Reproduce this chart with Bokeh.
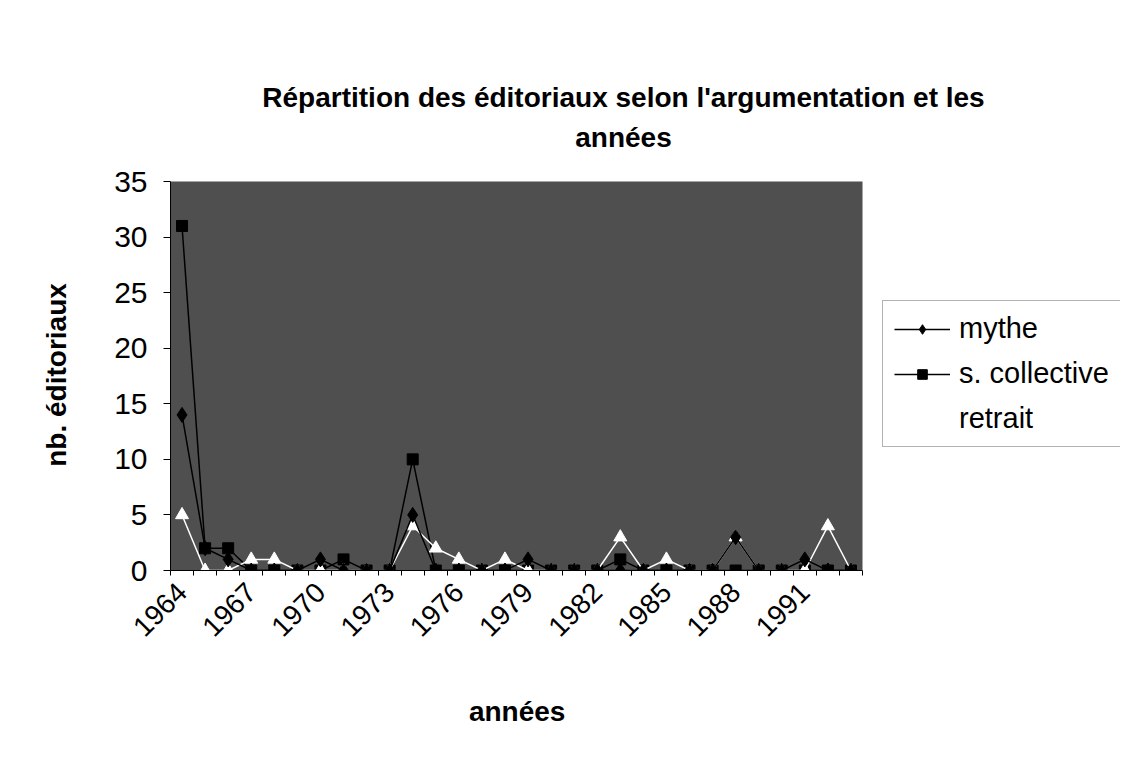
import math
from bokeh.plotting import figure
from bokeh.models import FixedTicker, Legend, LegendItem, Label, Range1d
from bokeh.embed import file_html
from bokeh.resources import INLINE

# ---- data ----
years = list(range(1964, 1994))
mythe        = [14, 2, 1, 0, 0, 0, 1, 0, 0, 0, 5, 0, 0, 0, 0, 1, 0, 0, 0, 0, 0, 0, 0, 0, 3, 0, 0, 1, 0, 0]
s_collective = [31, 2, 2, 0, 0, 0, 0, 1, 0, 0, 10, 0, 0, 0, 0, 0, 0, 0, 0, 1, 0, 0, 0, 0, 0, 0, 0, 0, 0, 0]
retrait      = [5, 0, 0, 1, 1, 0, 0, 0, 0, 0, 4, 2, 1, 0, 1, 0, 0, 0, 0, 3, 0, 1, 0, 0, 3, 0, 0, 0, 4, 0]
y_ticks = [0, 5, 10, 15, 20, 25, 30, 35]
title_lines = ["Répartition des éditoriaux selon l'argumentation et les", "années"]
x_title = "années"
y_title = "nb. éditoriaux"

x = list(range(len(years)))
FONT = "Liberation Sans"

# layout (pixels): plot area 692 x 389, its left edge 170 px and bottom 570 px from the top-left
W, H = 1120, 750
LEFT, BOTTOM = 170, 180
AREA_W, AREA_H = 692, 389
ncat = len(years)
ymax = max(y_ticks)
frame_w = W - LEFT
frame_h = H - BOTTOM
x_end = -0.5 + ncat * frame_w / AREA_W
y_end = ymax * frame_h / AREA_H

# axis titles are centred on the (larger) frame: pad with no-break spaces so the
# visible words sit centred on the plot area instead
NBSP = "\u00a0"
x_pad = NBSP * 33
y_pad = NBSP * 23

p = figure(width=W, height=H, output_backend="svg", toolbar_location=None, title=None,
           x_range=Range1d(-0.5, x_end), y_range=Range1d(0, y_end),
           min_border_left=LEFT, min_border_right=0, min_border_top=0, min_border_bottom=BOTTOM)
p.background_fill_color = "white"
p.border_fill_color = "white"
p.outline_line_color = None
p.grid.visible = False

# dark plot area
p.quad(left=-0.5, right=ncat - 0.5, bottom=0, top=ymax, fill_color="#4f4f4f", line_color=None)

# x axis
label_idx = list(range(0, ncat, 3))
p.xaxis.bounds = (-0.5, ncat - 0.5)
p.xaxis.ticker = FixedTicker(ticks=label_idx, minor_ticks=[i - 0.5 for i in range(ncat + 1)])
p.xaxis.major_label_overrides = {i: str(years[i]) for i in label_idx}
p.xaxis.major_label_orientation = math.pi / 4
p.xaxis.major_tick_out = 0
p.xaxis.major_tick_in = 0
p.xaxis.minor_tick_out = 5
p.xaxis.minor_tick_in = 0
p.xaxis.major_label_text_font = FONT
p.xaxis.major_label_text_font_size = "28px"
p.xaxis.major_label_text_color = "black"
p.xaxis.major_label_standoff = 12
p.xaxis.axis_label = x_title + x_pad
p.xaxis.axis_label_text_font = FONT
p.xaxis.axis_label_text_font_style = "bold"
p.xaxis.axis_label_text_font_size = "28px"
p.xaxis.axis_label_text_color = "black"
p.xaxis.axis_label_standoff = 48
p.xaxis.axis_line_color = "black"

# y axis
p.yaxis.bounds = (0, ymax)
p.yaxis.ticker = FixedTicker(ticks=y_ticks)
p.yaxis.major_tick_out = 7
p.yaxis.major_tick_in = 0
p.yaxis.minor_tick_out = 0
p.yaxis.minor_tick_in = 0
p.yaxis.major_label_text_font = FONT
p.yaxis.major_label_text_font_size = "30px"
p.yaxis.major_label_text_color = "black"
p.yaxis.major_label_standoff = 16
p.yaxis.axis_label = y_title + y_pad
p.yaxis.axis_label_text_font = FONT
p.yaxis.axis_label_text_font_style = "bold"
p.yaxis.axis_label_text_font_size = "28px"
p.yaxis.axis_label_text_color = "black"
p.yaxis.axis_label_standoff = 39
p.yaxis.axis_line_color = "black"

# series (drawing order chosen to match overlaps in the reference)
sc_line = p.line(x, s_collective, line_color="black", line_width=1.5)
sc_pts = p.scatter(x, s_collective, marker="square", size=11, fill_color="black", line_color="black")
re_line = p.line(x, retrait, line_color="white", line_width=1.5)
re_pts = p.scatter(x, retrait, marker="triangle", size=13, fill_color="white", line_color="white")
my_line = p.line(x, mythe, line_color="black", line_width=1.5)
my_pts = p.scatter(x, mythe, marker="diamond", size=15, fill_color="black", line_color="black")

legend = Legend(items=[LegendItem(label="mythe", renderers=[my_line, my_pts]),
                       LegendItem(label="s. collective", renderers=[sc_line, sc_pts]),
                       LegendItem(label="retrait", renderers=[re_line, re_pts])],
                location=(712, 123))
legend.label_text_font = FONT
legend.label_text_font_size = "29px"
legend.label_text_color = "black"
legend.glyph_width = 56
legend.glyph_height = 24
legend.label_height = 24
legend.label_standoff = 9
legend.spacing = 12
legend.padding = 11
legend.margin = 0
legend.border_line_color = "#666666"
legend.border_line_width = 1
legend.background_fill_color = "white"
legend.background_fill_alpha = 1
p.add_layout(legend, "center")

# two-line title
for i, line in enumerate(title_lines):
    p.add_layout(Label(x=453, y=(frame_h - 97) - i * 40, x_units="screen", y_units="screen",
                       text=line, text_align="center", text_baseline="alphabetic",
                       text_font=FONT, text_font_style="bold", text_font_size="28px",
                       text_color="black"))

open("out.html", "w").write(file_html(p, INLINE))
